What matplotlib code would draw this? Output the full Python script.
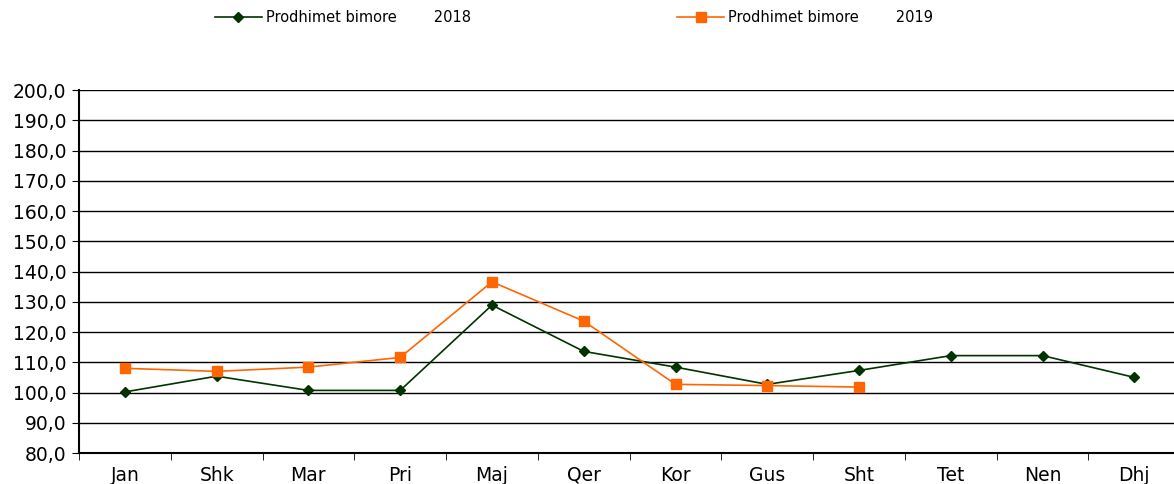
import matplotlib.pyplot as plt
import numpy as np

plt.rcParams['font.family'] = ['DejaVu Sans']

months = ["Jan", "Shk", "Mar", "Pri", "Maj", "Qer", "Kor", "Gus", "Sht", "Tet", "Nen", "Dhj"]
prod_2018 = [100.2, 105.4, 100.7, 100.7, 128.9, 113.6, 108.4, 102.7, 107.3, 112.2, 112.2, 105.0]
prod_2019 = [108.0, 107.0, 108.4, 111.6, 136.6, 123.6, 102.7, 102.3, 101.8]

GREEN = "#003300"
ORANGE = "#FF6600"

fig = plt.figure(figsize=(11.74, 4.84), dpi=100)
ax = fig.add_axes([0.0673, 0.064, 0.938, 0.75])

x18 = np.arange(len(prod_2018))
x19 = np.arange(len(prod_2019))
l18, = ax.plot(x18, prod_2018, color=GREEN, lw=1.2, marker="D", markersize=5.5,
               label="Prodhimet bimore        2018", zorder=3)
l19, = ax.plot(x19, prod_2019, color=ORANGE, lw=1.2, marker="s", markersize=7.5,
               label="Prodhimet bimore        2019", zorder=3)

ax.set_ylim(80, 200)
ax.set_yticks(np.arange(80, 201, 10))
ax.set_yticklabels([f"{v},0" for v in range(80, 201, 10)], fontsize=13.5)
ax.set_xlim(-0.5, len(months) - 0.5)
ax.set_xticks(np.arange(len(months)))
ax.set_xticklabels(months, fontsize=13.5)
ax.set_xticks(np.arange(len(months) + 1) - 0.5, minor=True)
ax.tick_params(axis="x", which="major", length=0, pad=9)
ax.tick_params(axis="x", which="minor", length=5, direction="out", color="black")
ax.tick_params(axis="y", length=5, direction="out", pad=4)

ax.grid(axis="y", color="black", lw=1.0)
ax.set_axisbelow(True)
for s in ["top", "right"]:
    ax.spines[s].set_visible(False)
ax.spines["left"].set_linewidth(1.5)
ax.spines["bottom"].set_linewidth(1.5)

for line, x0 in [(l18, 0.183), (l19, 0.577)]:
    fig.legend(handles=[line], loc="center left", bbox_to_anchor=(x0, 0.963),
               frameon=False, fontsize=10.5, handlelength=3.2, handletextpad=0.3,
               borderpad=0, borderaxespad=0)

fig.savefig("out.png", dpi=100)
